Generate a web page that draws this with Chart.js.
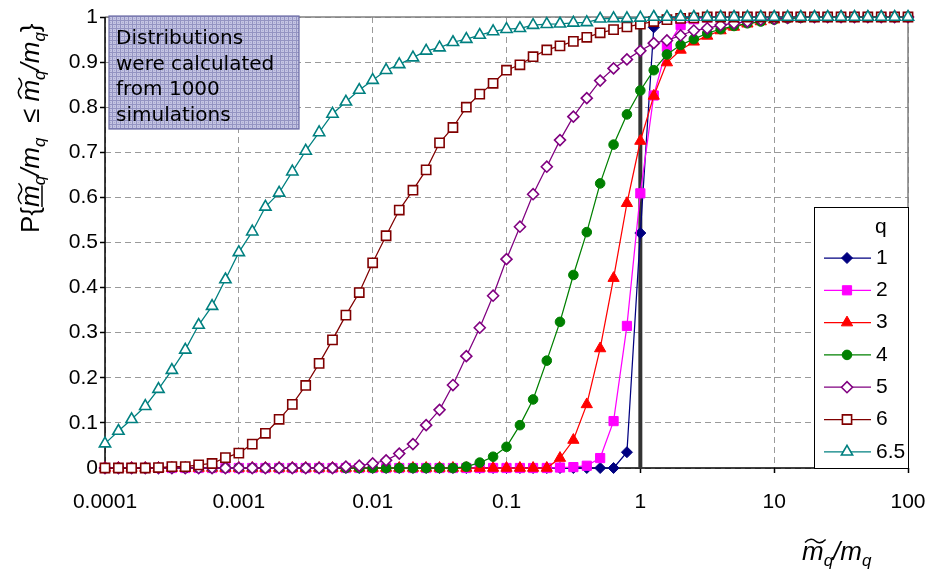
<!DOCTYPE html>
<html>
<head>
<meta charset="utf-8">
<script src="https://cdn.jsdelivr.net/npm/chart.js@4.4.1/dist/chart.umd.min.js"></script>
<style>
html, body { margin: 0; padding: 0; background: #fff; }
#wrap { width: 934px; height: 570px; }
</style>
</head>
<body>
<div id="wrap"><canvas id="chart" width="934" height="570"></canvas></div>
<script>
"use strict";

// x positions (m~q/mq), ten per decade
var ratios = [
    0.0001, 0.000126, 0.000158, 0.0002, 0.000251, 0.000316, 0.000398, 0.000501, 0.000631, 0.000794,
    0.001, 0.00126, 0.00158, 0.002, 0.00251, 0.00316, 0.00398, 0.00501, 0.00631, 0.00794,
    0.01, 0.0126, 0.0158, 0.02, 0.0251, 0.0316, 0.0398, 0.0501, 0.0631, 0.0794,
    0.1, 0.126, 0.158, 0.2, 0.251, 0.316, 0.398, 0.501, 0.631, 0.794,
    1, 1.26, 1.58, 2, 2.51, 3.16, 3.98, 5.01, 6.31, 7.94,
    10, 12.6, 15.8, 20, 25.1, 31.6, 39.8, 50.1, 63.1, 79.4,
    100
];

var seriesNames = ['1', '2', '3', '4', '5', '6', '6.5'];

var probQ1 = [
    0, 0, 0, 0, 0, 0, 0, 0, 0, 0,
    0, 0, 0, 0, 0, 0, 0, 0, 0, 0,
    0, 0, 0, 0, 0, 0, 0, 0, 0, 0,
    0, 0, 0, 0, 0, 0, 0, 0, 0, 0.035,
    0.521, 0.977, 0.999, 1, 1, 1, 1, 1, 1, 1,
    1, 1, 1, 1, 1, 1, 1, 1, 1, 1,
    1
];
var probQ2 = [
    0, 0, 0, 0, 0, 0, 0, 0, 0, 0,
    0, 0, 0, 0, 0, 0, 0, 0, 0, 0,
    0, 0, 0, 0, 0, 0, 0, 0, 0, 0,
    0, 0, 0, 0, 0.001, 0.002, 0.005, 0.022, 0.104, 0.315,
    0.609, 0.826, 0.934, 0.982, 0.995, 0.999, 1, 1, 1, 1,
    1, 1, 1, 1, 1, 1, 1, 1, 1, 1,
    1
];
var probQ3 = [
    0, 0, 0, 0, 0, 0, 0, 0, 0, 0,
    0, 0, 0, 0, 0, 0, 0, 0, 0, 0,
    0, 0, 0, 0, 0, 0, 0, 0, 0, 0,
    0, 0, 0, 0, 0.022, 0.062, 0.141, 0.265, 0.421, 0.587,
    0.725, 0.825, 0.899, 0.927, 0.945, 0.958, 0.970, 0.978, 0.985, 0.990,
    0.994, 0.997, 0.999, 1, 1, 1, 1, 1, 1, 1,
    1
];
var probQ4 = [
    0, 0, 0, 0, 0, 0, 0, 0, 0, 0,
    0, 0, 0, 0, 0, 0, 0, 0, 0, 0,
    0, 0, 0, 0, 0, 0, 0, 0.003, 0.012, 0.025,
    0.047, 0.095, 0.152, 0.238, 0.324, 0.428, 0.523, 0.631, 0.717, 0.784,
    0.837, 0.882, 0.917, 0.938, 0.951, 0.964, 0.973, 0.980, 0.986, 0.990,
    0.994, 0.997, 0.998, 1, 1, 1, 1, 1, 1, 1,
    1
];
var probQ5 = [
    0, 0, 0, 0, 0, 0, 0, 0, 0, 0,
    0, 0, 0, 0, 0, 0, 0, 0, 0.003, 0.005,
    0.010, 0.017, 0.032, 0.053, 0.095, 0.129, 0.184, 0.248, 0.311, 0.382,
    0.463, 0.535, 0.607, 0.668, 0.727, 0.779, 0.820, 0.859, 0.886, 0.906,
    0.925, 0.942, 0.948, 0.959, 0.970, 0.975, 0.982, 0.986, 0.990, 0.994,
    0.996, 0.998, 1, 1, 1, 1, 1, 1, 1, 1,
    1
];
var probQ6 = [
    0, 0, 0, 0, 0.001, 0.003, 0.003, 0.007, 0.010, 0.023,
    0.033, 0.053, 0.077, 0.108, 0.141, 0.183, 0.232, 0.284, 0.339, 0.389,
    0.455, 0.515, 0.572, 0.616, 0.661, 0.721, 0.755, 0.800, 0.829, 0.853,
    0.882, 0.894, 0.912, 0.927, 0.936, 0.946, 0.955, 0.965, 0.972, 0.978,
    0.984, 0.990, 0.994, 0.997, 0.998, 1, 1, 1, 1, 1,
    1, 1, 1, 1, 1, 1, 1, 1, 1, 1,
    1
];
var probQ65 = [
    0.054, 0.082, 0.108, 0.137, 0.175, 0.217, 0.262, 0.317, 0.359, 0.418,
    0.478, 0.524, 0.579, 0.610, 0.657, 0.703, 0.744, 0.785, 0.812, 0.838,
    0.860, 0.882, 0.895, 0.910, 0.925, 0.932, 0.944, 0.951, 0.960, 0.968,
    0.973, 0.975, 0.982, 0.984, 0.985, 0.987, 0.988, 0.996, 0.997, 0.997,
    0.998, 1, 1, 1, 1, 1, 1, 1, 1, 1,
    1, 1, 1, 1, 1, 1, 1, 1, 1, 1,
    1
];

var xTickValues = [0.0001, 0.001, 0.01, 0.1, 1, 10, 100];
var xTickLabels = ['0.0001', '0.001', '0.01', '0.1', '1', '10', '100'];
var yTickLabels = ['0', '0.1', '0.2', '0.3', '0.4', '0.5', '0.6', '0.7', '0.8', '0.9', '1'];
var refLineX = 1;

var noteLines = ['Distributions', 'were calculated', 'from 1000', 'simulations'];
var xTitleParts = [['m', 't'], ['q', 's'], ['/m', 'i'], ['q', 's']];
var yTitleParts = [['P{', 'n'], ['m', 'u'], ['q', 's'], ['/m', 'i'], ['q', 's'], ['  \u2264 ', 'n'],
    ['m', 't'], ['q', 's'], ['/m', 'i'], ['q', 's'], ['}', 'n']];

var SANS = '"Liberation Sans", Arial, sans-serif';

var styles = [
    { color: '#000080', fill: '#000080', point: 'rectRot', radius: 5.5, bw: 1 },
    { color: '#ff00ff', fill: '#ff00ff', point: 'rect', radius: 6.5, bw: 1 },
    { color: '#ff0000', fill: '#ff0000', point: 'triangle', radius: 6.5, bw: 1 },
    { color: '#008000', fill: '#008000', point: 'circle', radius: 4.8, bw: 1 },
    { color: '#800080', fill: '#ffffff', point: 'rectRot', radius: 5.5, bw: 1.6 },
    { color: '#800000', fill: '#ffffff', point: 'rect', radius: 6.5, bw: 1.6 },
    { color: '#008080', fill: '#ffffff', point: 'triangle', radius: 6.5, bw: 1.6 }
];

var allSeries = [probQ1, probQ2, probQ3, probQ4, probQ5, probQ6, probQ65];

function toPoints(values) {
    return ratios.map(function(x, i) {
        return { x: x, y: values[i] };
    });
}

var datasets = allSeries.map(function(values, i) {
    var s = styles[i];
    return {
        label: seriesNames[i],
        data: toPoints(values),
        borderColor: s.color,
        borderWidth: 1.25,
        backgroundColor: s.fill,
        pointStyle: s.point,
        pointRadius: s.radius,
        pointBorderWidth: s.bw,
        pointBorderColor: s.color,
        pointBackgroundColor: s.fill,
        tension: 0,
        clip: false,
        order: allSeries.length - i
    };
});

datasets.push({
    label: 'ref',
    data: [{ x: refLineX, y: 0 }, { x: refLineX, y: 1 }],
    borderColor: '#333333',
    borderWidth: 4,
    pointRadius: 0,
    order: 99
});

function drawMarker(ctx, style, r, x, y) {
    ctx.beginPath();
    if (style === 'circle') {
        ctx.arc(x, y, r, 0, Math.PI * 2);
    } else if (style === 'rect') {
        var s = r * Math.SQRT1_2;
        ctx.rect(x - s, y - s, 2 * s, 2 * s);
    } else if (style === 'rectRot') {
        ctx.moveTo(x - r, y);
        ctx.lineTo(x, y - r);
        ctx.lineTo(x + r, y);
        ctx.lineTo(x, y + r);
        ctx.closePath();
    } else {
        var a = 0;
        ctx.moveTo(x + Math.sin(a) * r, y - Math.cos(a) * r);
        a += Math.PI * 2 / 3;
        ctx.lineTo(x + Math.sin(a) * r, y - Math.cos(a) * r);
        a += Math.PI * 2 / 3;
        ctx.lineTo(x + Math.sin(a) * r, y - Math.cos(a) * r);
        ctx.closePath();
    }
    ctx.fill();
    ctx.stroke();
}

function drawTilde(ctx, a, b, y0) {
    var w = b - a;
    ctx.beginPath();
    ctx.moveTo(a, y0 + 1.5);
    ctx.bezierCurveTo(a + w * 0.2, y0 - 3, a + w * 0.4, y0 - 2, a + w * 0.5, y0);
    ctx.bezierCurveTo(a + w * 0.6, y0 + 2, a + w * 0.8, y0 + 3, b, y0 - 1.5);
    ctx.lineWidth = 1.5;
    ctx.stroke();
}

// math-like label: normal / italic / subscript / tilde / tilde+underline
function drawMath(ctx, parts, x, y) {
    var cx = x;
    ctx.fillStyle = '#000';
    ctx.strokeStyle = '#000';
    ctx.textBaseline = 'alphabetic';
    ctx.textAlign = 'left';
    parts.forEach(function(p) {
        var kind = p[1];
        var sub = kind === 's';
        ctx.font = (kind === 'n' ? '' : 'italic ') + (sub ? 17 : 26) + 'px ' + SANS;
        ctx.fillText(p[0], cx, y + (sub ? 6 : 0));
        var w = ctx.measureText(p[0]).width;
        if (kind === 't' || kind === 'u') {
            drawTilde(ctx, cx + 3, cx + w + 2, y - 19);
        }
        if (kind === 'u') {
            ctx.beginPath();
            ctx.moveTo(cx, y + 3);
            ctx.lineTo(cx + w, y + 3);
            ctx.lineWidth = 1.5;
            ctx.stroke();
        }
        cx += w;
    });
}

function makePattern(ctx) {
    var c = document.createElement('canvas');
    c.width = 4;
    c.height = 4;
    var p = c.getContext('2d');
    p.fillStyle = '#c4c4e2';
    p.fillRect(0, 0, 4, 4);
    p.fillStyle = '#9494c2';
    p.fillRect(0, 0, 4, 1);
    p.fillRect(0, 0, 1, 4);
    p.fillStyle = '#a8a8d2';
    p.fillRect(2, 2, 1, 1);
    return ctx.createPattern(c, 'repeat');
}

var framePlugin = {
    id: 'frame',
    beforeDatasetsDraw: function(chart) {
        var ctx = chart.ctx;
        var a = chart.chartArea;
        ctx.save();
        ctx.lineWidth = 1.5;
        ctx.strokeStyle = '#808080';
        ctx.beginPath();
        ctx.moveTo(a.left, a.top);
        ctx.lineTo(a.right, a.top);
        ctx.lineTo(a.right, a.bottom);
        ctx.stroke();
        ctx.strokeStyle = '#000';
        ctx.beginPath();
        ctx.moveTo(a.left, a.top);
        ctx.lineTo(a.left, a.bottom);
        ctx.lineTo(a.right, a.bottom);
        ctx.stroke();
        ctx.restore();
    },
    afterDatasetsDraw: function(chart) {
        var ctx = chart.ctx;
        var a = chart.chartArea;
        ctx.save();

        // note box
        ctx.fillStyle = makePattern(ctx);
        ctx.fillRect(109, 16, 190, 113);
        ctx.strokeStyle = '#6c6ca6';
        ctx.lineWidth = 1.2;
        ctx.strokeRect(109, 16, 190, 113);
        ctx.fillStyle = '#000';
        ctx.font = '20px "DejaVu Sans", Verdana, sans-serif';
        ctx.textBaseline = 'alphabetic';
        noteLines.forEach(function(line, i) {
            ctx.fillText(line, 116, 44 + i * 25.5);
        });

        // legend
        var lx = 814, ly = 207;
        ctx.fillStyle = '#fff';
        ctx.fillRect(lx, ly, a.right - lx, a.bottom - ly);
        ctx.strokeStyle = '#000';
        ctx.lineWidth = 1;
        ctx.strokeRect(lx + 0.5, ly + 0.5, a.right - lx, a.bottom - ly);
        ctx.font = '21px ' + SANS;
        ctx.textBaseline = 'middle';
        ctx.fillStyle = '#000';
        ctx.fillText('q', 875, 227);
        seriesNames.forEach(function(name, i) {
            var s = styles[i];
            var y = 258 + i * 32.3;
            ctx.strokeStyle = s.color;
            ctx.lineWidth = 1.25;
            ctx.beginPath();
            ctx.moveTo(824, y);
            ctx.lineTo(871, y);
            ctx.stroke();
            ctx.fillStyle = s.fill;
            ctx.lineWidth = s.bw;
            drawMarker(ctx, s.point, s.radius, 847, y);
            ctx.fillStyle = '#000';
            ctx.fillText(name, 876, y);
        });

        // axis titles
        drawMath(ctx, xTitleParts, 802, 560);
        ctx.translate(39, 233);
        ctx.rotate(-Math.PI / 2);
        drawMath(ctx, yTitleParts, 0, 0);
        ctx.restore();
    }
};

var tickFont = { family: SANS, size: 21 };

createChart(document.getElementById('chart'), {
    type: 'line',
    data: { datasets: datasets },
    options: {
        responsive: false,
        animation: false,
        events: [],
        layout: { padding: { left: 69, right: 26, top: 17, bottom: 0 } },
        plugins: {
            legend: { display: false },
            tooltip: { enabled: false }
        },
        scales: {
            x: {
                type: 'logarithmic',
                min: 0.0001,
                max: 100,
                afterBuildTicks: function(scale) {
                    scale.ticks = xTickValues.map(function(v) { return { value: v }; });
                },
                afterFit: function(scale) {
                    scale.height = 102;
                    scale.paddingLeft = 0;
                    scale.paddingRight = 0;
                },
                ticks: {
                    autoSkip: false,
                    maxRotation: 0,
                    color: '#000',
                    font: tickFont,
                    padding: 17,
                    callback: function(v, i) { return xTickLabels[i]; }
                },
                grid: {
                    color: '#9a9a9a',
                    lineWidth: 1,
                    tickColor: '#000',
                    tickWidth: 1.5,
                    tickLength: 5,
                    tickBorderDash: []
                },
                border: { display: false, dash: [6, 4] }
            },
            y: {
                type: 'linear',
                min: 0,
                max: 1,
                afterFit: function(scale) {
                    scale.width = 36;
                    scale.paddingTop = 0;
                    scale.paddingBottom = 0;
                },
                ticks: {
                    stepSize: 0.1,
                    color: '#000',
                    font: tickFont,
                    padding: 2,
                    callback: function(v, i) { return yTickLabels[i]; }
                },
                grid: {
                    color: '#9a9a9a',
                    lineWidth: 1,
                    tickColor: '#000',
                    tickWidth: 1.5,
                    tickLength: 5,
                    tickBorderDash: []
                },
                border: { display: false, dash: [6, 4] }
            }
        }
    },
    plugins: [framePlugin]
});

function createChart(element, options) {
    return new Chart(element, options);
}
</script>
</body>
</html>
